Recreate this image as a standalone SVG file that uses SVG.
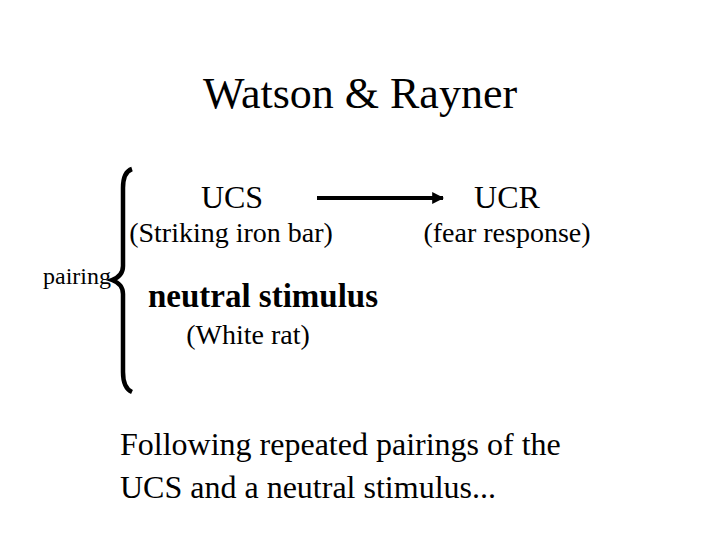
<svg xmlns="http://www.w3.org/2000/svg" width="720" height="540" viewBox="0 0 720 540">
<defs>
<marker id="ah" viewBox="0 0 10 10" refX="9" refY="5" markerWidth="3" markerHeight="3" orient="auto" markerUnits="strokeWidth">
<path d="M0,0 L10,5 L0,10 z" fill="#000"/>
</marker>
</defs>
<rect width="720" height="540" fill="#fff"/>
<g id="title"><text x="360" y="108" font-size="44" font-family="Liberation Serif" text-anchor="middle">Watson &amp; Rayner</text></g>
<g id="ucs"><text x="232" y="208" font-size="32" font-family="Liberation Serif" text-anchor="middle">UCS</text>
<text x="231" y="242" font-size="28" font-family="Liberation Serif" text-anchor="middle">(Striking iron bar)</text></g>
<g id="ucr"><text x="507" y="208" font-size="32" font-family="Liberation Serif" text-anchor="middle">UCR</text>
<text x="507" y="242" font-size="28" font-family="Liberation Serif" text-anchor="middle">(fear response)</text></g>
<g id="neutral"><text x="263" y="307" font-size="33" font-weight="bold" font-family="Liberation Serif" text-anchor="middle">neutral stimulus</text>
<text x="248" y="344" font-size="28" font-family="Liberation Serif" text-anchor="middle">(White rat)</text></g>
<g id="pairing"><text x="43" y="284" font-size="24" font-family="Liberation Serif">pairing</text>
<path d="M132,169 Q123,172 123,188 L123,266 Q123,276 112,280 Q123,284 123,294 L123,372 Q123,388 132,392" fill="none" stroke="#000" stroke-width="4.5"/></g>
<g id="connectors"><line x1="317" y1="198" x2="443" y2="198" stroke="#000" stroke-width="4" marker-end="url(#ah)"/></g>
<g id="caption"><text x="120" y="455" font-size="32" font-family="Liberation Serif">Following repeated pairings of the</text>
<text x="120" y="498" font-size="32" font-family="Liberation Serif">UCS and a neutral stimulus...</text></g>
</svg>
